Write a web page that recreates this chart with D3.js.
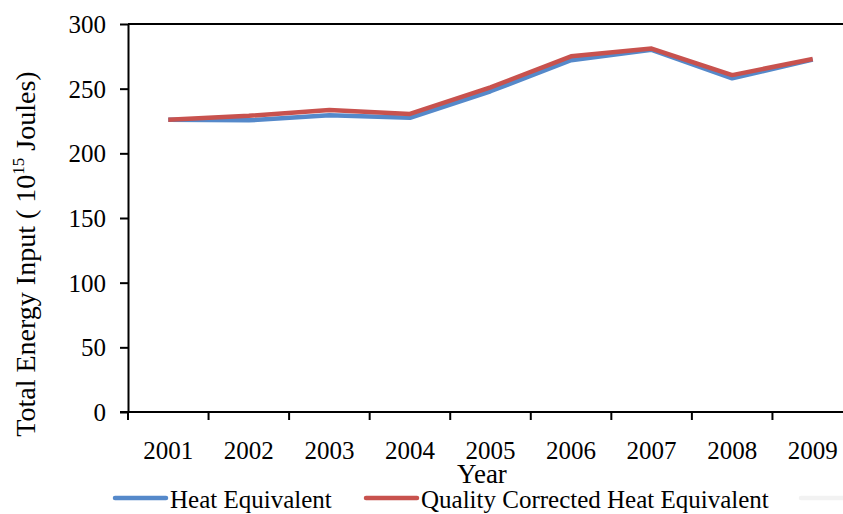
<!DOCTYPE html>
<html>
<head>
<meta charset="utf-8">
<script src="https://cdn.jsdelivr.net/npm/d3@7"></script>
<style>
  html, body { margin: 0; padding: 0; background: #fff; }
  svg { display: block; }
  text { font-family: "Liberation Serif", "Times New Roman", serif; fill: #000; }
</style>
</head>
<body>
<svg id="chart" width="843" height="514"></svg>
<script>
const years = ["2001","2002","2003","2004","2005","2006","2007","2008","2009"];
const heatEquivalent = [226, 225.5, 229.5, 227.5, 248, 272, 280, 258, 272.5];
const qualityCorrected = [226, 229, 233.5, 230.5, 251, 275, 281, 260.5, 273];
const yTicks = [0, 50, 100, 150, 200, 250, 300];
const seriesNames = ["Heat Equivalent", "Quality Corrected Heat Equivalent", ""];
const seriesColors = ["#5589CA", "#C8524E", "#F2F2F2"];

const svg = d3.select("#chart");
const mLeft = 128, mRight = 853, mTop = 24, mBottom = 412;

const x = d3.scaleBand().domain(years).range([mLeft, mRight]).paddingInner(0).paddingOuter(0);
const y = d3.scaleLinear().domain([0, 300]).range([mBottom, mTop]);

// top border
svg.append("line").attr("x1", mLeft).attr("x2", mRight).attr("y1", mTop).attr("y2", mTop)
  .attr("stroke", "#000").attr("stroke-width", 2);

// y axis
const yAxis = svg.append("g").attr("transform", `translate(${mLeft},0)`)
  .call(d3.axisLeft(y).tickValues(yTicks).tickSize(8).tickPadding(14).tickSizeOuter(0));
yAxis.select(".domain").attr("stroke-width", 2);
yAxis.selectAll(".tick line").attr("stroke-width", 2);
yAxis.selectAll(".tick text").attr("font-size", 25).attr("font-family", "Liberation Serif").attr("dy", "0.34em");

// x axis
const xAxis = svg.append("g").attr("transform", `translate(0,${mBottom})`)
  .call(d3.axisBottom(x).tickSize(0).tickPadding(29).tickSizeOuter(0));
xAxis.select(".domain").attr("d", `M${mLeft - 8},0H${mRight}`).attr("stroke-width", 2);
xAxis.selectAll(".tick text").attr("font-size", 25).attr("font-family", "Liberation Serif");
// boundary ticks between categories
const bounds = years.map(d => x(d)).concat([x(years[years.length - 1]) + x.bandwidth()]);
xAxis.selectAll(".bound").data(bounds).enter().append("line")
  .attr("class", "bound").attr("x1", d => d).attr("x2", d => d).attr("y1", 0).attr("y2", 8)
  .attr("stroke", "#000").attr("stroke-width", 2);

// lines
const line = d3.line().x((d, i) => x(years[i]) + x.bandwidth() / 2).y(d => y(d));
svg.append("path").datum(heatEquivalent).attr("d", line).attr("fill", "none")
  .attr("stroke", seriesColors[0]).attr("stroke-width", 4.5).attr("stroke-linejoin", "round");
svg.append("path").datum(qualityCorrected).attr("d", line).attr("fill", "none")
  .attr("stroke", seriesColors[1]).attr("stroke-width", 4.5).attr("stroke-linejoin", "round");

// axis titles
svg.append("text").attr("x", 482).attr("y", 483).attr("text-anchor", "middle")
  .attr("font-size", 27).text("Year");

const yt = svg.append("text").attr("transform", "translate(35,254) rotate(-90)")
  .attr("text-anchor", "middle").attr("font-size", 28);
yt.append("tspan").text("Total Energy Input ( 10");
yt.append("tspan").attr("font-size", 17).attr("dy", -11).text("15");
yt.append("tspan").attr("dy", 11).text(" Joules)");

// legend
const legendX = [115, 366, 801];
seriesNames.forEach((name, i) => {
  svg.append("line").attr("x1", legendX[i]).attr("x2", legendX[i] + 51).attr("y1", 498).attr("y2", 498)
    .attr("stroke", seriesColors[i]).attr("stroke-width", 4.5).attr("stroke-linecap", "round");
  if (name) svg.append("text").attr("x", legendX[i] + 55).attr("y", 508).attr("font-size", 25).text(name);
});
</script>
</body>
</html>
